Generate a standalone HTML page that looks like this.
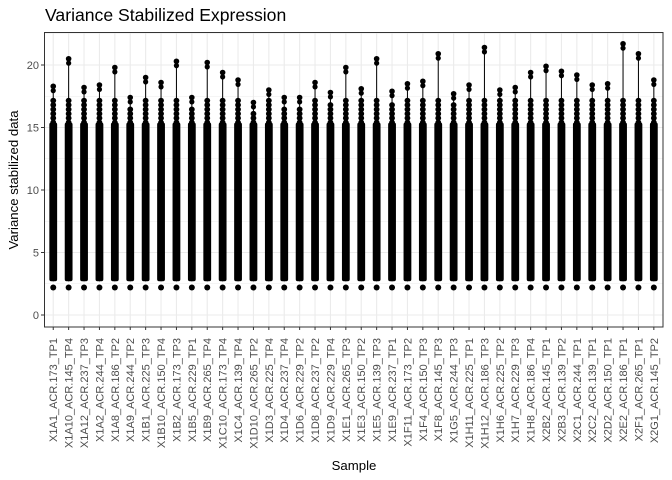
<!DOCTYPE html>
<html><head><meta charset="utf-8"><style>
html,body{margin:0;padding:0;background:#fff;}
svg{display:block;font-family:"Liberation Sans",sans-serif;}
</style></head><body>
<svg id="s" width="672" height="480" viewBox="0 0 672 480" xmlns="http://www.w3.org/2000/svg">
<rect x="0" y="0" width="672" height="480" fill="#fff"/>
<text x="45" y="21" font-size="17.6" fill="#000">Variance Stabilized Expression</text>
<g id="grid"></g>
<g id="vio"></g>
<rect x="44.5" y="32.5" width="618.5" height="294.5" fill="none" stroke="#333" stroke-width="1"/>
<g font-size="11" fill="#4d4d4d" text-anchor="end">
<text x="39" y="319">0</text>
<text x="39" y="256.5">5</text>
<text x="39" y="194">10</text>
<text x="39" y="131.5">15</text>
<text x="39" y="69">20</text>
</g>
<g stroke="#333" stroke-width="1">
<line x1="41" x2="44" y1="315" y2="315"/><line x1="41" x2="44" y1="252.5" y2="252.5"/><line x1="41" x2="44" y1="190" y2="190"/><line x1="41" x2="44" y1="127.5" y2="127.5"/><line x1="41" x2="44" y1="65" y2="65"/>
</g>
<text transform="translate(18,180) rotate(-90)" text-anchor="middle" font-size="13.2" fill="#000">Variance stabilized data</text>
<text x="354" y="470" text-anchor="middle" font-size="13.2" fill="#000">Sample</text>
<g id="lab" font-size="11" fill="#4d4d4d" text-anchor="end">
<text transform="translate(57.2,338) rotate(-90)">X1A1_ACR.173_TP1</text>
<text transform="translate(72.6,338) rotate(-90)">X1A10_ACR.145_TP4</text>
<text transform="translate(88.0,338) rotate(-90)">X1A12_ACR.237_TP3</text>
<text transform="translate(103.4,338) rotate(-90)">X1A2_ACR.244_TP4</text>
<text transform="translate(118.8,338) rotate(-90)">X1A8_ACR.186_TP2</text>
<text transform="translate(134.2,338) rotate(-90)">X1A9_ACR.244_TP2</text>
<text transform="translate(149.6,338) rotate(-90)">X1B1_ACR.225_TP3</text>
<text transform="translate(165.0,338) rotate(-90)">X1B10_ACR.150_TP4</text>
<text transform="translate(180.4,338) rotate(-90)">X1B2_ACR.173_TP3</text>
<text transform="translate(195.8,338) rotate(-90)">X1B5_ACR.229_TP1</text>
<text transform="translate(211.2,338) rotate(-90)">X1B9_ACR.265_TP4</text>
<text transform="translate(226.6,338) rotate(-90)">X1C10_ACR.173_TP4</text>
<text transform="translate(242.0,338) rotate(-90)">X1C4_ACR.139_TP4</text>
<text transform="translate(257.4,338) rotate(-90)">X1D10_ACR.265_TP2</text>
<text transform="translate(272.8,338) rotate(-90)">X1D3_ACR.225_TP4</text>
<text transform="translate(288.2,338) rotate(-90)">X1D4_ACR.237_TP4</text>
<text transform="translate(303.6,338) rotate(-90)">X1D6_ACR.229_TP2</text>
<text transform="translate(319.0,338) rotate(-90)">X1D8_ACR.237_TP2</text>
<text transform="translate(334.4,338) rotate(-90)">X1D9_ACR.229_TP4</text>
<text transform="translate(349.8,338) rotate(-90)">X1E1_ACR.265_TP3</text>
<text transform="translate(365.2,338) rotate(-90)">X1E3_ACR.150_TP2</text>
<text transform="translate(380.6,338) rotate(-90)">X1E5_ACR.139_TP3</text>
<text transform="translate(396.0,338) rotate(-90)">X1E9_ACR.237_TP1</text>
<text transform="translate(411.4,338) rotate(-90)">X1F11_ACR.173_TP2</text>
<text transform="translate(426.8,338) rotate(-90)">X1F4_ACR.150_TP3</text>
<text transform="translate(442.2,338) rotate(-90)">X1F8_ACR.145_TP3</text>
<text transform="translate(457.6,338) rotate(-90)">X1G5_ACR.244_TP3</text>
<text transform="translate(473.0,338) rotate(-90)">X1H11_ACR.225_TP1</text>
<text transform="translate(488.4,338) rotate(-90)">X1H12_ACR.186_TP3</text>
<text transform="translate(503.8,338) rotate(-90)">X1H6_ACR.225_TP2</text>
<text transform="translate(519.2,338) rotate(-90)">X1H7_ACR.229_TP3</text>
<text transform="translate(534.6,338) rotate(-90)">X1H8_ACR.186_TP4</text>
<text transform="translate(550.0,338) rotate(-90)">X2B2_ACR.145_TP1</text>
<text transform="translate(565.4,338) rotate(-90)">X2B3_ACR.139_TP2</text>
<text transform="translate(580.8,338) rotate(-90)">X2C1_ACR.244_TP1</text>
<text transform="translate(596.2,338) rotate(-90)">X2C2_ACR.139_TP1</text>
<text transform="translate(611.6,338) rotate(-90)">X2D2_ACR.150_TP1</text>
<text transform="translate(627.0,338) rotate(-90)">X2E2_ACR.186_TP1</text>
<text transform="translate(642.4,338) rotate(-90)">X2F1_ACR.265_TP1</text>
<text transform="translate(657.8,338) rotate(-90)">X2G1_ACR.145_TP2</text>
</g>
</svg>
<script>
(function(){
var NS="http://www.w3.org/2000/svg";
function el(p,t,a){var e=document.createElementNS(NS,t);for(var k in a)e.setAttribute(k,a[k]);p.appendChild(e);return e;}
var g=document.getElementById('grid'),v=document.getElementById('vio'),s=document.getElementById('s');
function Y(u){return 315-12.5*u;}
el(g,'rect',{x:44.5,y:32.5,width:618.5,height:294.5,fill:'#fff'});
[2.5,7.5,12.5,17.5,22.5].forEach(function(u){el(g,'line',{x1:44.5,x2:663,y1:Y(u),y2:Y(u),stroke:'#ebebeb','stroke-width':0.6});});
[0,5,10,15,20].forEach(function(u){el(g,'line',{x1:44.5,x2:663,y1:Y(u),y2:Y(u),stroke:'#ebebeb','stroke-width':1.1});});
var mx=[18.3,20.5,18.2,18.4,19.8,17.4,19.0,18.6,20.3,17.4,20.2,19.4,18.8,17.0,18.0,17.4,17.4,18.6,17.8,19.8,18.1,20.5,17.9,18.5,18.7,20.9,17.7,18.4,21.4,18.0,18.2,19.4,19.9,19.5,19.2,18.4,18.5,21.7,20.9,18.8];
var ax=document.createElementNS(NS,'g');s.appendChild(ax);
for(var i=0;i<40;i++){
 var x=44+(i+0.6)*15.4;
 el(g,'line',{x1:x,x2:x,y1:32.5,y2:327,stroke:'#ebebeb','stroke-width':1.1});
 el(ax,'line',{x1:x,x2:x,y1:327,y2:330,stroke:'#333','stroke-width':1});
 var m=mx[i], top=Math.min(17.2,m-0.8), body=Math.min(15.4,top-0.6);
 el(v,'line',{x1:x,x2:x,y1:Y(m),y2:Y(2.7),stroke:'#000','stroke-width':1});
 var w=3.9;
 el(v,'rect',{x:x-w,y:Y(body),width:2*w,height:Y(2.7)-Y(body),fill:'#000',rx:2});
 for(var u=body;u<=top;u+=0.35){el(v,'circle',{cx:x,cy:Y(u),r:2.9,fill:'#000'});}
 el(v,'circle',{cx:x,cy:Y(m),r:2.8,fill:'#000'});
 el(v,'circle',{cx:x,cy:Y(m-0.35),r:2.6,fill:'#000'});
 el(v,'circle',{cx:x,cy:Y(2.2),r:3,fill:'#000'});
 el(v,'rect',{x:x-2.5,y:Y(2.6),width:5,height:2,fill:'#fff'});
}
})();
</script>
</body></html>
